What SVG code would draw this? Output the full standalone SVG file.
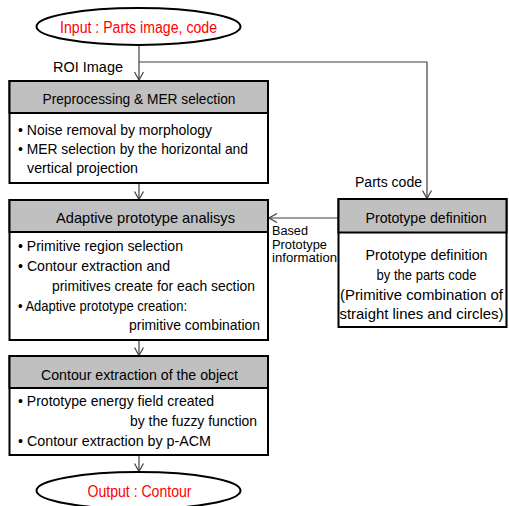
<svg xmlns="http://www.w3.org/2000/svg" width="509" height="506" viewBox="0 0 509 506">
<style>
  text { font-family: "Liberation Sans", Arial, sans-serif; fill: #000; }
  .term { fill: #ff0000; font-size: 16px; text-anchor: middle; }
  .hdr { font-size: 15px; text-anchor: middle; }
  .body { font-size: 14.5px; }
  .lbl { font-size: 14px; }
  .lbls { font-size: 12.5px; }
  .box { fill: #fff; stroke: #000; stroke-width: 2; }
  .head { fill: #c0c0c0; stroke: #000; stroke-width: 2; }
  .ell { fill: #fff; stroke: #000; stroke-width: 2; }
  .conn { fill: none; stroke: #404040; stroke-width: 1.2; }
</style>
<defs>
  <marker id="arr" viewBox="0 0 10 10" refX="10" refY="5" markerWidth="10" markerHeight="10" markerUnits="userSpaceOnUse" orient="auto">
    <path d="M2,0.5 L10,5 L2,9.5" fill="none" stroke="#404040" stroke-width="1.2"/>
  </marker>
</defs>

<g id="connectors">
  <path class="conn" d="M139,45 V80" marker-end="url(#arr)"/>
  <path class="conn" d="M139,62 H427 V198.5" marker-end="url(#arr)"/>
  <path class="conn" d="M139,183 V199.5" marker-end="url(#arr)"/>
  <path class="conn" d="M338,218 H269" marker-end="url(#arr)"/>
  <path class="conn" d="M139,340 V355.5" marker-end="url(#arr)"/>
  <path class="conn" d="M139,455 V471.5" marker-end="url(#arr)"/>
  <text class="lbl" x="53" y="72" textLength="70" lengthAdjust="spacingAndGlyphs">ROI Image</text>
  <text class="lbl" x="355" y="187" textLength="67" lengthAdjust="spacingAndGlyphs">Parts code</text>
  <text class="lbls" x="272" y="235" textLength="36" lengthAdjust="spacingAndGlyphs">Based</text>
  <text class="lbls" x="272" y="248.5" textLength="55" lengthAdjust="spacingAndGlyphs">Prototype</text>
  <text class="lbls" x="272" y="262" textLength="65" lengthAdjust="spacingAndGlyphs">information</text>
</g>

<g id="input">
  <ellipse class="ell" cx="138.5" cy="26.5" rx="102" ry="18.5"/>
  <text class="term" x="138.5" y="32.5" textLength="157" lengthAdjust="spacingAndGlyphs">Input : Parts image, code</text>
</g>

<g id="preprocessing">
  <rect class="box" x="9.5" y="81" width="258.5" height="102"/>
  <rect class="head" x="9.5" y="81" width="258.5" height="32"/>
  <text class="hdr" x="139" y="103.5" textLength="193" lengthAdjust="spacingAndGlyphs">Preprocessing &amp; MER selection</text>
  <text class="body" x="18" y="134.5" textLength="194" lengthAdjust="spacingAndGlyphs">• Noise removal by morphology</text>
  <text class="body" x="18" y="153.5" textLength="230" lengthAdjust="spacingAndGlyphs">• MER selection by the horizontal and</text>
  <text class="body" x="27" y="172.5" textLength="111" lengthAdjust="spacingAndGlyphs">vertical projection</text>
</g>

<g id="adaptive">
  <rect class="box" x="9.5" y="200" width="258.5" height="140"/>
  <rect class="head" x="9.5" y="200" width="258.5" height="32"/>
  <text class="hdr" x="145.5" y="222.5" textLength="179" lengthAdjust="spacingAndGlyphs">Adaptive prototype analisys</text>
  <text class="body" x="18" y="250.5" textLength="165" lengthAdjust="spacingAndGlyphs">• Primitive region selection</text>
  <text class="body" x="18" y="270.5" textLength="152" lengthAdjust="spacingAndGlyphs">• Contour extraction and</text>
  <text class="body" x="52" y="290.5" textLength="203" lengthAdjust="spacingAndGlyphs">primitives create for each section</text>
  <text class="body" x="18" y="310.5" textLength="169" lengthAdjust="spacingAndGlyphs">• Adaptive prototype creation:</text>
  <text class="body" x="129" y="329.5" textLength="131" lengthAdjust="spacingAndGlyphs">primitive combination</text>
</g>

<g id="prototype">
  <rect class="box" x="338.5" y="199" width="168" height="128"/>
  <rect class="head" x="338.5" y="199" width="168" height="33.5"/>
  <text class="hdr" x="426" y="222.5" textLength="121" lengthAdjust="spacingAndGlyphs">Prototype definition</text>
  <text class="body" x="426.5" y="259.5" text-anchor="middle" textLength="122" lengthAdjust="spacingAndGlyphs">Prototype definition</text>
  <text class="body" x="426.5" y="279.5" text-anchor="middle" textLength="100" lengthAdjust="spacingAndGlyphs">by the parts code</text>
  <text class="body" x="421.5" y="299.5" text-anchor="middle" textLength="163" lengthAdjust="spacingAndGlyphs">(Primitive combination  of</text>
  <text class="body" x="421.5" y="318.5" text-anchor="middle" textLength="164" lengthAdjust="spacingAndGlyphs">straight lines and circles)</text>
</g>

<g id="contour">
  <rect class="box" x="9.5" y="356" width="258.5" height="99"/>
  <rect class="head" x="9.5" y="356" width="258.5" height="32"/>
  <text class="hdr" x="139.5" y="379.5" textLength="197" lengthAdjust="spacingAndGlyphs">Contour extraction of the object</text>
  <text class="body" x="18" y="405.5" textLength="196" lengthAdjust="spacingAndGlyphs">• Prototype energy field created</text>
  <text class="body" x="130" y="425.5" textLength="127" lengthAdjust="spacingAndGlyphs">by the fuzzy function</text>
  <text class="body" x="18" y="445.5" textLength="193" lengthAdjust="spacingAndGlyphs">• Contour extraction by p-ACM</text>
</g>

<g id="output">
  <ellipse class="ell" cx="138.5" cy="490.5" rx="102" ry="18.5"/>
  <text class="term" x="139.5" y="496.5" textLength="104" lengthAdjust="spacingAndGlyphs">Output : Contour</text>
</g>
</svg>
